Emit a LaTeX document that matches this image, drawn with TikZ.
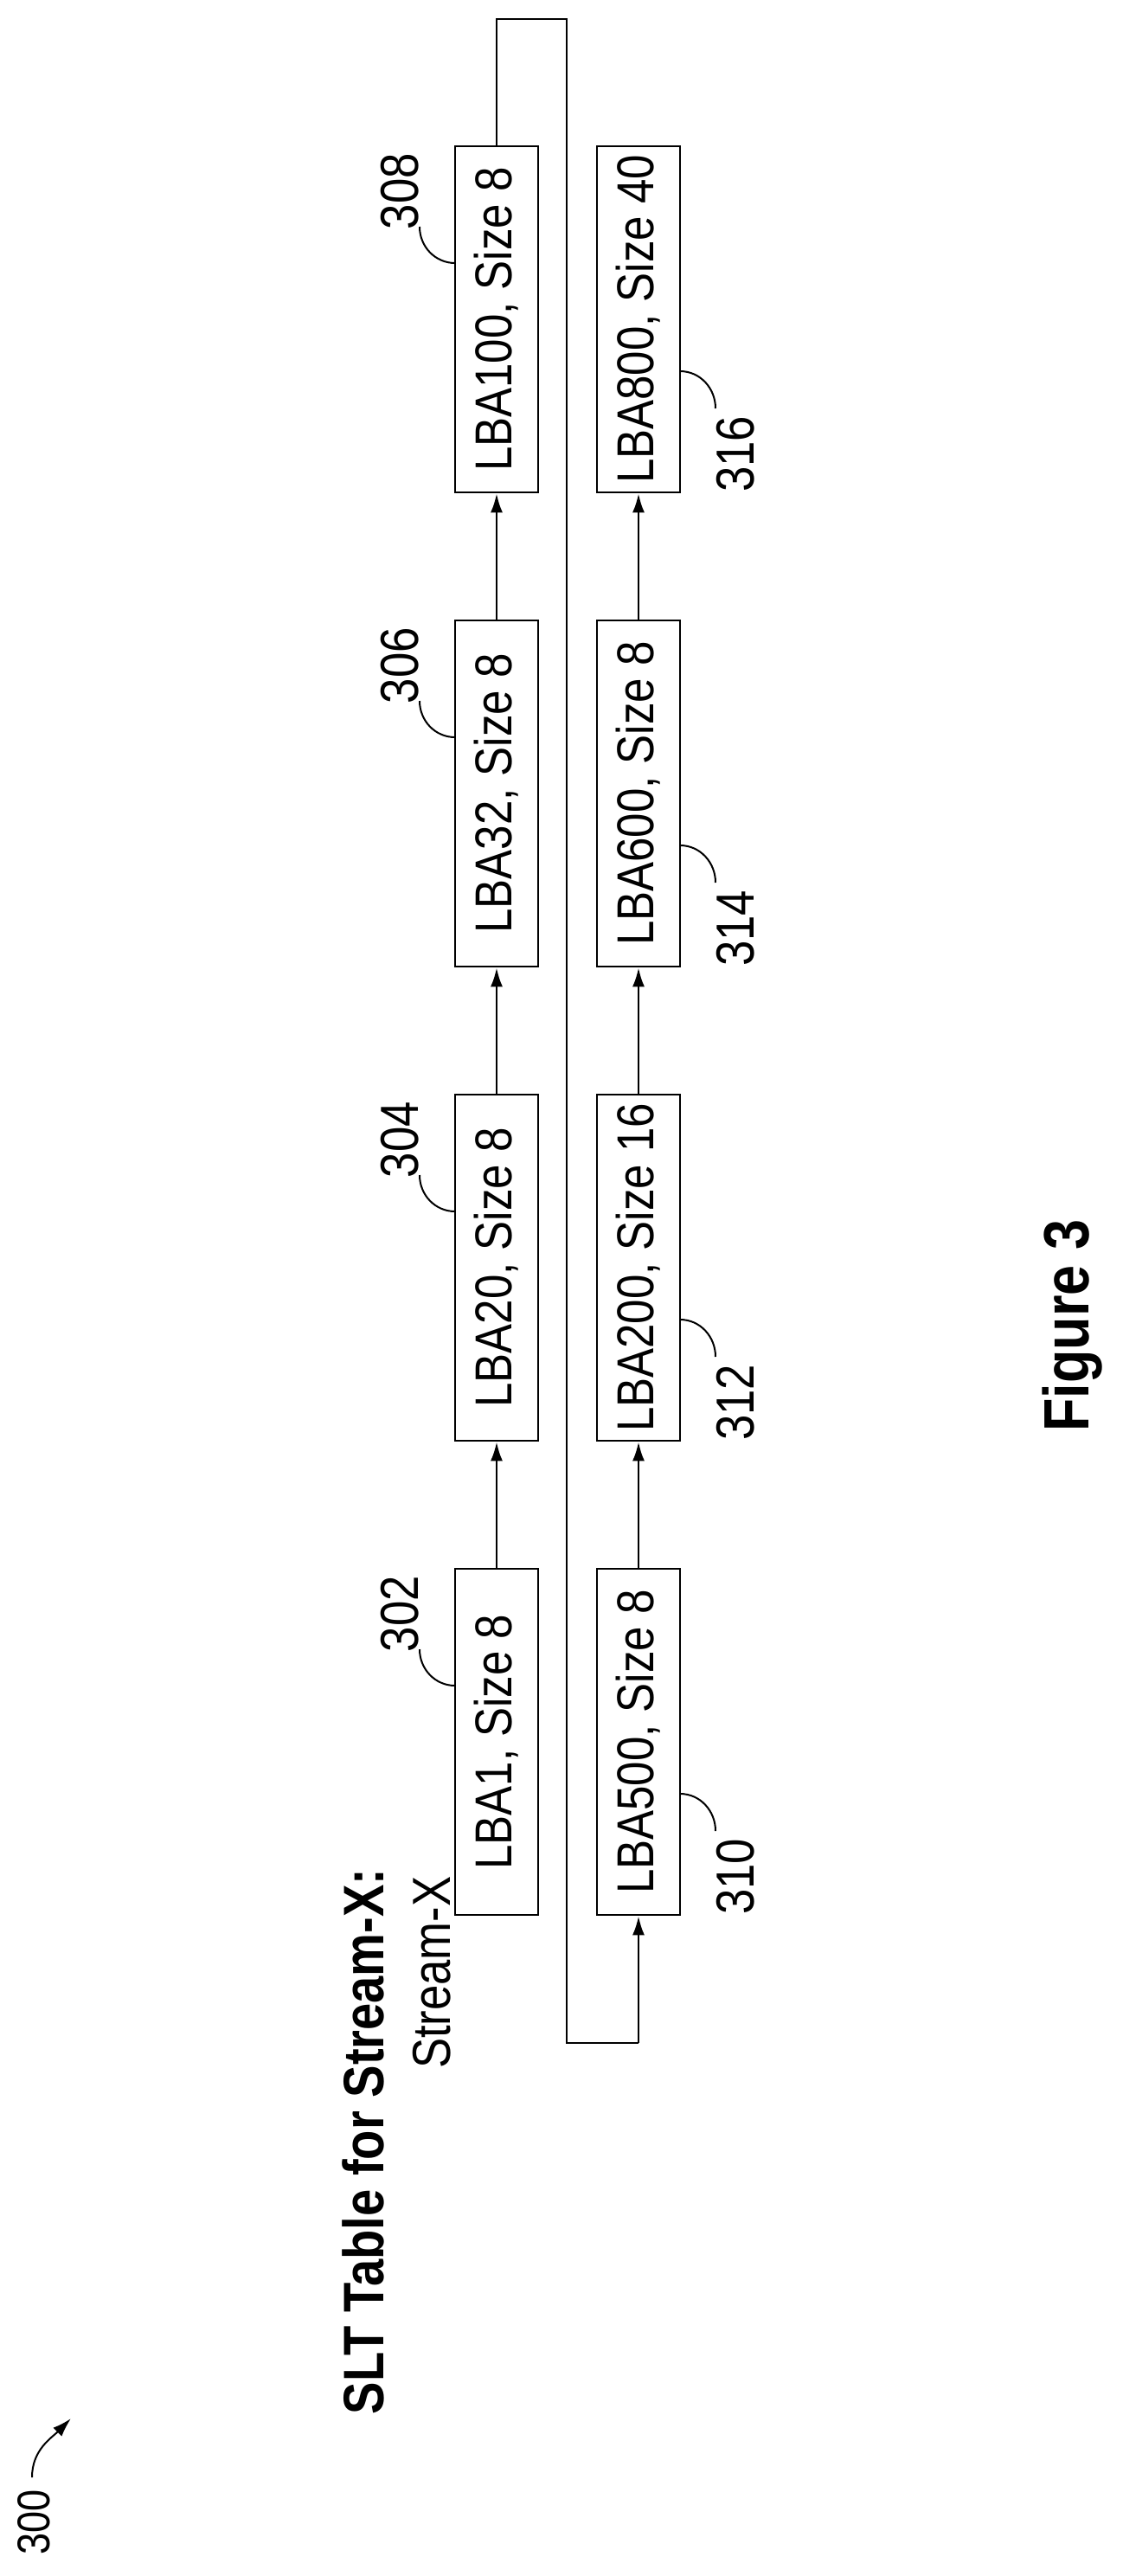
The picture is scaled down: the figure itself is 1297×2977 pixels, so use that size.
\documentclass[tikz,border=0pt]{standalone}
\usepackage{fontspec}
\setmainfont{Liberation Sans}
\newfontfamily\drawfont[FakeStretch=0.85]{Liberation Sans}
\usetikzlibrary{positioning,arrows.meta,calc}
\tikzset{
  basic/.style  = {draw, line width=1.3pt, rectangle, rotate=90, inner sep=0pt,
                   font=\drawfont\fontsize{30}{34}\selectfont},
  entry/.style  = {basic, minimum width=200pt, minimum height=48pt},
  refnum/.style = {rotate=90, inner sep=0pt, font=\drawfont\fontsize{31}{34}\selectfont},
  leader/.style = {line width=1pt}
}

\begin{document}
\begin{tikzpicture}[x=0.5pt, y=-0.5pt, >={Latex[length=11pt,width=7pt]}]
\useasboundingbox (0,0) rectangle (1297,2977);

% first row of the table
\node[entry] (e302) at (574,2013) {LBA1, Size 8};
\node[entry] (e304) at (574,1465) {LBA20, Size 8};
\node[entry] (e306) at (574,917)  {LBA32, Size 8};
\node[entry] (e308) at (574,369)  {LBA100, Size 8};
% second row of the table
\node[entry] (e310) at (738,2013) {LBA500, Size 8};
\node[entry] (e312) at (738,1465) {LBA200, Size 16};
\node[entry] (e314) at (738,917)  {LBA600, Size 8};
\node[entry] (e316) at (738,369)  {LBA800, Size 40};

% titles
\node[rotate=90, anchor=base east, inner sep=0pt,
      font=\drawfont\bfseries\fontsize{33}{36}\selectfont] (title) at (443,2159) {SLT Table for Stream-X:};
\node[rotate=90, anchor=base east, inner sep=0pt,
      font=\drawfont\fontsize{31}{34}\selectfont] (stream) at (520,2168) {Stream-X};
\node[rotate=90, anchor=base west, inner sep=0pt,
      font=\drawfont\bfseries\fontsize{37}{40}\selectfont] (fig) at (1258,1655) {Figure 3};

% links along each row
\foreach \a/\b in {302/304,304/306,306/308,310/312,312/314,314/316}
  \draw[->, line width=1.3pt] (e\a.east) -- (e\b.west);

% wrap from the end of the first row to the start of the second
\coordinate (w1) at (574,22);
\coordinate (w2) at (655,22);
\coordinate (w3) at (655,2361);
\coordinate (w4) at (738,2361);
\draw[line width=1.3pt] (e308.east) -- (w1) -- (w2) -- (w3) -- (w4);
\draw[->, line width=1.3pt] (w4) -- (e310.west);

% reference numerals, first row
\foreach \n/\y in {302/2013,304/1465,306/917,308/369}
  \draw[leader] (526,\y-65) to[out=180,in=-90] (485,\y-107)
    node[refnum, anchor=south west, xshift=-2pt] (r\n) {\n};
% reference numerals, second row
\foreach \n/\y in {310/2013,312/1465,314/917,316/369}
  \draw[leader] (786,\y+60) to[out=0,in=90] (827,\y+103)
    node[refnum, anchor=north east, xshift=-4pt] (r\n) {\n};

% figure numeral
\node[rotate=90, anchor=base west, inner sep=0pt,
      font=\drawfont\fontsize{26.5}{28}\selectfont] (r300) at (57,2953) {300};
\coordinate (a300) at (82,2795);
\draw[->, leader] (37,2863) to[out=90,in=225] (a300);
\end{tikzpicture}
\end{document}
